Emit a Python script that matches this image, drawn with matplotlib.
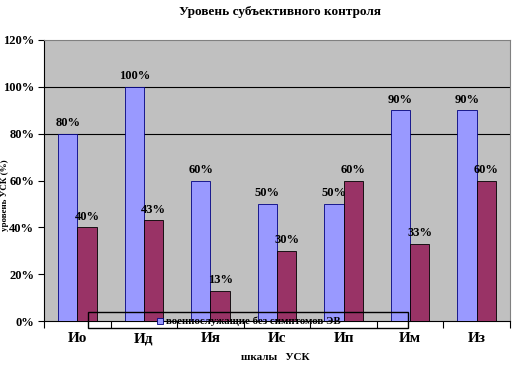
import matplotlib
matplotlib.use("Agg")
import matplotlib.pyplot as plt
import numpy as np
from matplotlib.patches import Rectangle

categories = ["Ио", "Ид", "Ия", "Ис", "Ип", "Им", "Из"]
series1 = [80, 100, 60, 50, 50, 90, 90]
series2 = [40, 43, 13, 30, 60, 33, 60]
yticks = [0, 20, 40, 60, 80, 100, 120]
legend_label = "военнослужащие без симптомов ЭВ"

plt.rcParams['font.family'] = ['Liberation Serif', 'DejaVu Serif']
plt.rcParams['font.weight'] = 'bold'

fig = plt.figure(figsize=(5.12, 3.65), dpi=100)
ax = fig.add_axes([44/512, 44/365, 466/512, 281/365])
ax.set_facecolor('#C0C0C0')

x = np.arange(len(categories))
w = 0.29
ax.bar(x - w/2, series1, w, color='#9999FF', edgecolor='#000080', linewidth=0.6, zorder=3)
ax.bar(x + w/2, series2, w, color='#993366', edgecolor='#000000', linewidth=0.6, zorder=3)

for xi, v in zip(x - w/2, series1):
    ax.text(xi, v + 2, f"{v}%", ha='center', va='bottom', fontsize=9, fontweight='bold', zorder=4)
for xi, v in zip(x + w/2, series2):
    ax.text(xi, v + 2, f"{v}%", ha='center', va='bottom', fontsize=9, fontweight='bold', zorder=4)

ax.set_xlim(-0.5, len(categories) - 0.5)
ax.set_ylim(0, 120)
ax.set_yticks(yticks)
ax.set_yticklabels([f"{t}%" for t in yticks], fontsize=9, fontweight='bold')
for g in [80, 100]:
    ax.axhline(g, color='black', linewidth=0.8, zorder=2)

ax.set_xticks(np.arange(len(categories) + 1) - 0.5)
ax.set_xticklabels([])
ax.set_xticks(x, minor=True)
ax.set_xticklabels(categories, minor=True, fontsize=11, fontweight='bold')
ax.tick_params(axis='x', which='minor', length=0, pad=8)
ax.tick_params(axis='x', which='major', length=5, direction='out', width=0.8)
ax.tick_params(axis='y', length=4, direction='out', width=0.8, pad=3)

for s in ['left', 'bottom']:
    ax.spines[s].set_color('black')
for s in ['top', 'right']:
    ax.spines[s].set_color('#808080')

fig.text(5/512, 1 - 195/365, "уровень УСК (%)", rotation=90, ha='center', va='center',
         fontsize=6.5, fontweight='bold')
fig.text(275/512, 1 - 357/365, "шкалы   УСК", ha='center', va='center', fontsize=8, fontweight='bold')
fig.text(280/512, 1 - 12/365, "Уровень субъективного контроля", ha='center', va='center', fontsize=9.5, fontweight='bold')

# legend box
fig.patches.append(Rectangle((88/512, 1 - 328/365), 320/512, 16/365, transform=fig.transFigure,
                             fill=False, edgecolor='black', linewidth=1.0, zorder=10))
fig.patches.append(Rectangle((157/512, 1 - 324/365), 6/512, 6/365, transform=fig.transFigure,
                             facecolor='#9999FF', edgecolor='#000080', linewidth=0.6, zorder=10))
fig.text(166/512, 1 - 321/365, legend_label, ha='left', va='center', fontsize=7.8, fontweight='bold', zorder=11)

fig.savefig("out.png", dpi=100, facecolor='white')
